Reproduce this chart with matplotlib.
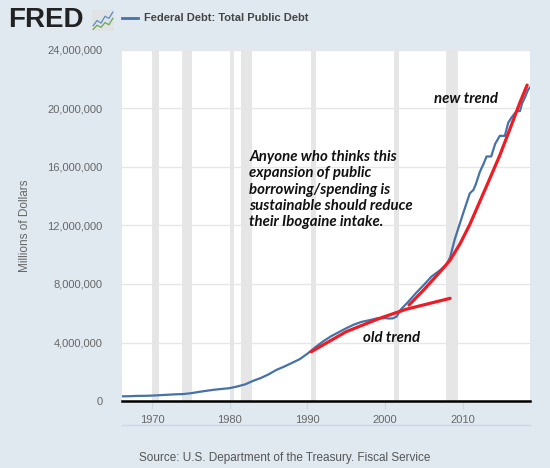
import matplotlib
matplotlib.use("Agg")
import matplotlib.pyplot as plt
from matplotlib.ticker import FuncFormatter

# Federal debt, millions of dollars
years = [1966.0, 1967, 1968, 1969, 1970, 1971, 1972, 1973, 1974, 1975,
         1976, 1977, 1978, 1979, 1980, 1981, 1982, 1983, 1984, 1985,
         1986, 1987, 1988, 1989, 1990, 1991, 1992, 1993, 1994, 1995,
         1996, 1997, 1998, 1999, 2000, 2000.5, 2001, 2001.5, 2002, 2003,
         2004, 2005, 2006, 2007, 2007.9, 2008.4, 2009.0, 2010.0, 2010.94, 2011.4,
         2011.7, 2012.23, 2012.7, 2013.1, 2013.7, 2014.2, 2014.8, 2015.45, 2015.9,
         2016.3, 2016.96, 2017.4, 2017.7, 2018.0, 2018.45, 2018.7]
debt = [320000, 326000, 348000, 354000, 370000, 398000, 427000, 458000, 475000, 533000,
        620000, 699000, 772000, 827000, 880000, 998000, 1142000, 1377000, 1572000, 1823000,
        2125000, 2350000, 2602000, 2857000, 3233000, 3665000, 4065000, 4411000, 4693000, 4974000,
        5225000, 5413000, 5526000, 5656000, 5674000, 5640000, 5650000, 5770000, 6228000, 6783000,
        7379000, 7933000, 8507000, 8900000, 9300000, 9820000, 11060000, 12700000, 14200000, 14430000,
        14800000, 15660000, 16200000, 16720000, 16720000, 17570000, 18130000, 18130000, 19030000,
        19370000, 19820000, 19820000, 20380000, 20700000, 21280000, 21440000]

# hand-drawn trend lines
old_trend_x = [1990.5, 1995.0, 1999.3, 2002.7, 2008.4]
old_trend_y = [3370000, 4740000, 5650000, 6270000, 7020000]
new_trend_x = [2003.1, 2005.0, 2007.07, 2008.36, 2009.65, 2010.94, 2012.23, 2013.52, 2014.8,
               2016.1, 2017.38, 2018.33]
new_trend_y = [6560000, 7600000, 8810000, 9600000, 10720000, 12070000, 13640000, 15210000,
               16790000, 18580000, 20380000, 21600000]

recessions = [(1969.92, 1970.83), (1973.83, 1975.17), (1980.0, 1980.5),
              (1981.5, 1982.83), (1990.5, 1991.17), (2001.17, 2001.83), (2007.92, 2009.42)]

bg = "#e1e9f0"
fig = plt.figure(figsize=(5.5, 4.68), dpi=100, facecolor=bg)
ax = fig.add_axes([122 / 550, 1 - 401 / 468, 408 / 550, 351 / 468])
ax.set_facecolor("white")

for a, b in recessions:
    ax.axvspan(a, b, color="#e6e6e6", lw=0, zorder=0)

ax.set_yticks(range(0, 24000001, 4000000))
ax.yaxis.set_major_formatter(FuncFormatter(lambda v, p: f"{int(v):,}"))
ax.grid(axis="y", color="#e6e6e6", lw=1, zorder=1)
ax.set_xlim(1966.1, 2018.7)
ax.set_ylim(0, 24000000)
ax.set_xticks([1970, 1980, 1990, 2000, 2010])

ax.plot(years, debt, color="#4572a7", lw=1.6, zorder=3)
ax.plot(old_trend_x, old_trend_y, color="#ee1c25", lw=2.3, zorder=4, solid_capstyle="round")
ax.plot(new_trend_x, new_trend_y, color="#ee1c25", lw=2.3, zorder=4, solid_capstyle="round")

for s in ["top", "right", "left"]:
    ax.spines[s].set_visible(False)
ax.spines["bottom"].set_color("black")
ax.spines["bottom"].set_linewidth(1.8)
ax.spines["bottom"].set_zorder(5)
ax.tick_params(axis="y", length=0, pad=14, labelsize=8, labelcolor="#666666")
ax.tick_params(axis="x", length=6, color="#ccd6eb", pad=4, labelsize=8, labelcolor="#666666")
for lab in ax.get_xticklabels() + ax.get_yticklabels():
    lab.set_fontfamily("Liberation Sans")

ax.plot([0, 1], [-0.068, -0.068], transform=ax.transAxes, color="#ccd6eb", lw=1, clip_on=False)

ax.set_ylabel("Millions of Dollars", fontsize=8.5, color="#666666", family="Liberation Sans", labelpad=12)

note = ("Anyone who thinks this\nexpansion of public\nborrowing/spending is\n"
        "sustainable should reduce\ntheir Ibogaine intake.")
font = dict(fontsize=10.8, fontweight="bold", style="italic", family=["Lato", "DejaVu Sans"], color="#111111")
ax.text(1982.5, 17150000, note, va="top", ha="left", linespacing=1.2, **font)
ax.text(2010.4, 20650000, "new trend", ha="center", va="center", **font)
ax.text(2000.9, 4300000, "old trend", ha="center", va="center", **font)

# header
fig.text(8 / 550, 1 - 20 / 468, "FRED", fontsize=20, fontweight="bold", color="#222222",
         family="Liberation Sans", va="center", ha="left")
icon = fig.add_axes([92 / 550, 1 - 31 / 468, 22 / 550, 21 / 468])
icon.set_facecolor("#dfe3e6")
icon.plot([0, 1, 2, 3, 4, 5], [1, 2, 1.5, 2.8, 2.4, 3.6], color="#5b8bc4", lw=0.9)
icon.plot([0, 1, 2, 3, 4, 5], [0.3, 1.1, 0.7, 1.6, 1.2, 2.4], color="#6aa84f", lw=0.9)
icon.set_xlim(-0.3, 5.3)
icon.set_ylim(0, 4)
icon.set_xticks([])
icon.set_yticks([])
for s in icon.spines.values():
    s.set_visible(False)

fig.lines.append(plt.Line2D([122 / 550, 138 / 550], [1 - 18 / 468, 1 - 18 / 468],
                            transform=fig.transFigure, color="#4572a7", lw=2))
fig.text(144 / 550, 1 - 18 / 468, "Federal Debt: Total Public Debt", fontsize=8, fontweight="bold",
         color="#444444", family="Liberation Sans", va="center", ha="left")

fig.text(285 / 550, 1 - 458 / 468, "Source: U.S. Department of the Treasury. Fiscal Service",
         fontsize=8.5, color="#555555", family="Liberation Sans", ha="center", va="center")

fig.savefig("out.png", dpi=100, facecolor=bg)
